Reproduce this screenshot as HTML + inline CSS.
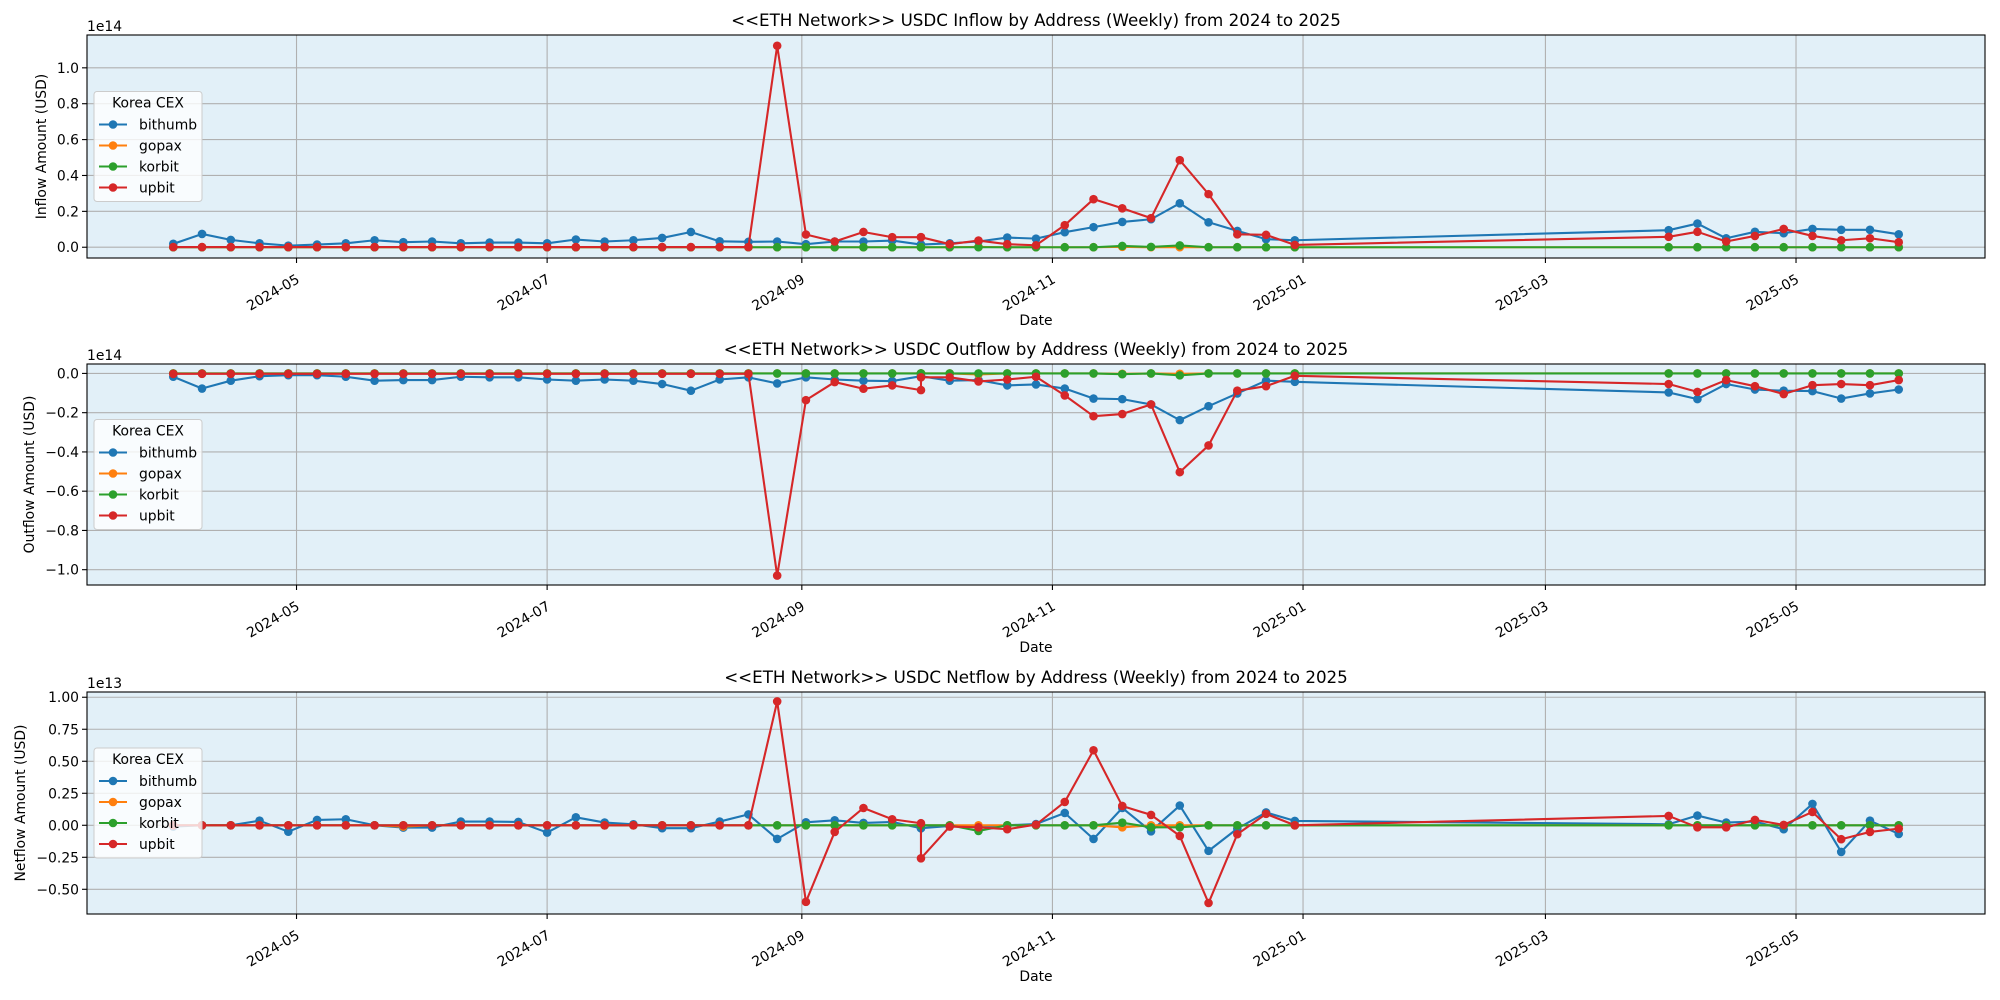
<!DOCTYPE html>
<html><head><meta charset="utf-8">
<style>
html,body{margin:0;padding:0;background:#fff;}
svg{display:block;font-family:"DejaVu Sans","Liberation Sans",sans-serif;}
</style></head>
<body>
<svg id="chart" width="2000" height="1000" viewBox="0 0 2000 1000" xmlns="http://www.w3.org/2000/svg"></svg>
<script>
// ---- data ----
const dates = ["2024-04-01","2024-04-08","2024-04-15","2024-04-22","2024-04-29","2024-05-06","2024-05-13","2024-05-20","2024-05-27","2024-06-03","2024-06-10","2024-06-17","2024-06-24","2024-07-01","2024-07-08","2024-07-15","2024-07-22","2024-07-29","2024-08-05","2024-08-12","2024-08-19","2024-08-26","2024-09-02","2024-09-09","2024-09-16","2024-09-23","2024-09-30","2024-09-30","2024-10-07","2024-10-14","2024-10-21","2024-10-28","2024-11-04","2024-11-11","2024-11-18","2024-11-25","2024-12-02","2024-12-09","2024-12-16","2024-12-23","2024-12-30","2025-03-31","2025-04-07","2025-04-14","2025-04-21","2025-04-28","2025-05-05","2025-05-12","2025-05-19","2025-05-26"];
const exchanges = ["bithumb","gopax","korbit","upbit"];

// inflow (x1e14)
const inBithumb = [0.019,0.074,0.041,0.022,0.009,0.015,0.022,0.039,0.028,0.032,0.022,0.026,0.026,0.022,0.043,0.032,0.039,0.052,0.085,0.033,0.03,0.032,0.017,0.032,0.032,0.037,0.015,0.015,0.022,0.032,0.054,0.048,0.084,0.112,0.141,0.156,0.245,0.139,0.091,0.045,0.039,0.095,0.132,0.05,0.086,0.078,0.102,0.097,0.097,0.072];
const inGopax = [0,0,0,0,0,0,0,0,0,0,0,0,0,0,0,0,0,0,0,0,0,0,0,0,0,0,0,0,0,0.002,0,0,0,0,0.002,0,0,0,0,0,0,0,0,0,0,0,0,0,0,0];
const inKorbit = [0,0,0,0,0,0,0,0,0,0,0,0,0,0,0,0,0,0,0,0,0,0,0,0,0,0,0,0,0,0,0,0,0,0,0.007,0.002,0.01,0,0,0,0,0,0,0,0,0,0,0,0,0];
const inUpbit = [0.001,0.001,0.001,0.001,0.001,0.001,0.001,0.001,0.001,0.001,0.001,0.001,0.001,0.001,0.001,0.001,0.001,0.001,0.001,0.001,0.001,1.123,0.071,0.032,0.085,0.056,0.056,0.056,0.017,0.037,0.017,0.011,0.123,0.268,0.217,0.162,0.485,0.296,0.072,0.069,0.013,0.058,0.086,0.032,0.063,0.102,0.063,0.039,0.05,0.028];

// outflow (x1e14)
const outBithumb = [-0.017,-0.077,-0.037,-0.014,-0.009,-0.009,-0.017,-0.037,-0.034,-0.034,-0.017,-0.02,-0.02,-0.031,-0.037,-0.031,-0.037,-0.054,-0.088,-0.031,-0.02,-0.051,-0.02,-0.031,-0.037,-0.039,-0.014,-0.014,-0.037,-0.034,-0.061,-0.056,-0.077,-0.128,-0.131,-0.158,-0.238,-0.167,-0.102,-0.037,-0.043,-0.097,-0.131,-0.054,-0.082,-0.088,-0.09,-0.128,-0.102,-0.082];
const outGopax = [0,0,0,0,0,0,0,0,0,0,0,0,0,0,0,0,0,0,0,0,0,0,0,0,0,0,0,0,0,-0.005,0,0,0,0,-0.002,0,-0.002,0,0,0,0,0,0,0,0,0,0,0,0,0];
const outKorbit = [0,0,0,0,0,0,0,0,0,0,0,0,0,0,0,0,0,0,0,0,0,0,0,0,0,0,0,0,0,0,0,0,0,0,-0.004,0,-0.01,0,0,0,0,0,0,0,0,0,0,0,0,0];
const outUpbit = [-0.002,-0.002,-0.002,-0.002,-0.002,-0.002,-0.002,-0.002,-0.002,-0.002,-0.002,-0.002,-0.002,-0.002,-0.002,-0.002,-0.002,-0.002,-0.002,-0.002,-0.002,-1.03,-0.136,-0.044,-0.078,-0.061,-0.085,-0.02,-0.02,-0.041,-0.031,-0.017,-0.112,-0.218,-0.207,-0.158,-0.503,-0.367,-0.088,-0.065,-0.012,-0.054,-0.094,-0.034,-0.065,-0.105,-0.06,-0.054,-0.06,-0.034];

// netflow (x1e13)
const netBithumb = [-0.01,0,0,0.036,-0.05,0.042,0.047,0,-0.018,-0.018,0.029,0.029,0.026,-0.057,0.062,0.021,0.008,-0.023,-0.023,0.029,0.085,-0.107,0.023,0.039,0.018,0.026,-0.023,-0.023,-0.005,-0.016,0,0.01,0.096,-0.107,0.135,-0.047,0.154,-0.2,-0.026,0.1,0.034,0.008,0.076,0.021,0.029,-0.031,0.167,-0.208,0.036,-0.068];
const netGopax = [0,0,0,0,0,0,0,0,-0.01,0,0,0,0,0,0,0,0,0,0,0,0,0,0,0,0,0,0,0,0,0,0,0,0,0,-0.016,0,0,0,0,0,0,0,0,0,0,0,0,0,0,0];
const netKorbit = [0,0,0,0,0,0,0,0,0,0,0,0,0,0,0,0,0,0,0,0,0,0,0,0,0,0,0,0,0,-0.044,0,0,0,0,0.02,-0.016,-0.016,0,0,0,0,0,0,0,0,0,0,0,0,0];
const netUpbit = [0,0,0,0,0,0,0,0,0,0,0,0,0,0,0,0,0,0,0,0,0,0.967,-0.598,-0.052,0.135,0.047,0.016,-0.258,-0.01,-0.016,-0.031,0.005,0.182,0.586,0.151,0.081,-0.083,-0.607,-0.07,0.089,0,0.073,-0.016,-0.016,0.042,0.003,0.104,-0.109,-0.052,-0.026];

const inflowTicks = [0,0.2,0.4,0.6,0.8,1.0];
const inflowTickLabels = ["0.0","0.2","0.4","0.6","0.8","1.0"];
const outflowTicks = [0,-0.2,-0.4,-0.6,-0.8,-1.0];
const outflowTickLabels = ["0.0","\u22120.2","\u22120.4","\u22120.6","\u22120.8","\u22121.0"];
const netTicks = [1.0,0.75,0.5,0.25,0,-0.25,-0.5];
const netTickLabels = ["1.00","0.75","0.50","0.25","0.00","\u22120.25","\u22120.50"];
const xTickDates = ["2024-05-01","2024-07-01","2024-09-01","2024-11-01","2025-01-01","2025-03-01","2025-05-01"];
const xTickLabels = ["2024-05","2024-07","2024-09","2024-11","2025-01","2025-03","2025-05"];

// ---- drawing ----
const NS = "http://www.w3.org/2000/svg";
const svg = document.getElementById("chart");
const colors = ["#1f77b4","#ff7f0e","#2ca02c","#d62728"];
const X0 = 87, X1 = 1985;
const t = s => Date.parse(s + "T00:00:00Z");
const xMin = t("2024-03-11"), xMax = t("2025-06-16");
const xScale = d => X0 + (t(d) - xMin) / (xMax - xMin) * (X1 - X0);

function mk(tag, attrs, parent) {
  const e = document.createElementNS(NS, tag);
  for (const k in attrs) e.setAttribute(k, attrs[k]);
  (parent || svg).appendChild(e);
  return e;
}

const panels = [
  {key:"inflow", title:"<<ETH Network>> USDC Inflow by Address (Weekly) from 2024 to 2025", ylabel:"Inflow Amount (USD)", ylabelX:42, top:35, bottom:258, vTop:1.183, vBot:-0.060, ticks:inflowTicks, tickLabels:inflowTickLabels, offset:"1e14", series:[inBithumb,inGopax,inKorbit,inUpbit]},
  {key:"outflow", title:"<<ETH Network>> USDC Outflow by Address (Weekly) from 2024 to 2025", ylabel:"Outflow Amount (USD)", ylabelX:30, top:364, bottom:585, vTop:0.048, vBot:-1.078, ticks:outflowTicks, tickLabels:outflowTickLabels, offset:"1e14", series:[outBithumb,outGopax,outKorbit,outUpbit]},
  {key:"netflow", title:"<<ETH Network>> USDC Netflow by Address (Weekly) from 2024 to 2025", ylabel:"Netflow Amount (USD)", ylabelX:21, top:692, bottom:914, vTop:1.041, vBot:-0.693, ticks:netTicks, tickLabels:netTickLabels, offset:"1e13", series:[netBithumb,netGopax,netKorbit,netUpbit]}
];

panels.forEach(p => {
  const g = mk("g", {});
  
  
  const yScale = v => p.top + (p.vTop - v) / (p.vTop - p.vBot) * (p.bottom - p.top);

  const bg = mk("rect", {x:X0, y:p.top, width:X1-X0, height:p.bottom-p.top, fill:"#e2f0f8"}, g);
  
  

  xTickDates.forEach((d, i) => {
    const x = xScale(d);
    const gl = mk("line", {x1:x, x2:x, y1:p.top, y2:p.bottom, stroke:"#b0b0b0", "stroke-width":1.1}, g);
    
    
    mk("line", {x1:x, x2:x, y1:p.bottom, y2:p.bottom+5, stroke:"#000", "stroke-width":1.1}, g);
    const ty = p.bottom + 24;
    const tl = mk("text", {x:x+4, y:ty, "font-size":13.9, "text-anchor":"end", transform:`rotate(-30 ${x+4} ${ty})`}, g);
    tl.textContent = xTickLabels[i];
    
    
  });
  p.ticks.forEach((v, i) => {
    const y = yScale(v);
    const gl = mk("line", {x1:X0, x2:X1, y1:y, y2:y, stroke:"#b0b0b0", "stroke-width":1.1}, g);
    
    
    mk("line", {x1:X0-5, x2:X0, y1:y, y2:y, stroke:"#000", "stroke-width":1.1}, g);
    const tl = mk("text", {x:X0-8, y:y+5, "font-size":13.9, "text-anchor":"end"}, g);
    tl.textContent = p.tickLabels[i];
    
    
  });

  p.series.forEach((vals, si) => {
    const sg = mk("g", {}, g);
    
    
    const pts = vals.map((v, i) => xScale(dates[i]).toFixed(2) + "," + yScale(v).toFixed(2));
    mk("polyline", {points:pts.join(" "), fill:"none", stroke:colors[si], "stroke-width":2.1, "stroke-linejoin":"round"}, sg);
    vals.forEach((v, i) => {
      const c = mk("circle", {cx:xScale(dates[i]), cy:yScale(v), r:4.3, fill:colors[si]}, sg);
      
      
    });
  });

  mk("rect", {x:X0, y:p.top, width:X1-X0, height:p.bottom-p.top, fill:"none", stroke:"#000", "stroke-width":1.1}, g);

  const tt = mk("text", {x:(X0+X1)/2, y:p.top-9, "font-size":16.7, "text-anchor":"middle"}, g);
  tt.textContent = p.title;
  
  
  const ot = mk("text", {x:X0, y:p.top-4, "font-size":13.9}, g);
  ot.textContent = p.offset;
  
  
  const cy = (p.top + p.bottom) / 2;
  const yl = mk("text", {x:p.ylabelX, y:cy, "font-size":13.9, "text-anchor":"middle", transform:`rotate(-90 ${p.ylabelX} ${cy})`, "dominant-baseline":"middle"}, g);
  yl.textContent = p.ylabel;
  
  
  const xl = mk("text", {x:(X0+X1)/2, y:p.bottom+67, "font-size":13.9, "text-anchor":"middle"}, g);
  xl.textContent = "Date";
  
  

  const lt = cy - 55;
  const lg = mk("g", {}, g);
  
  
  mk("rect", {x:94, y:lt, width:108, height:110, rx:3, fill:"#fff", "fill-opacity":0.8, stroke:"#cccccc", "stroke-width":1}, lg);
  const ltt = mk("text", {x:148, y:lt+16, "font-size":13.9, "text-anchor":"middle"}, lg);
  ltt.textContent = "Korea CEX";
  
  
  exchanges.forEach((name, si) => {
    const ey = lt + 33 + si * 21;
    const eg = mk("g", {}, lg);
    
    
    mk("line", {x1:99, x2:127, y1:ey, y2:ey, stroke:colors[si], "stroke-width":2.1}, eg);
    mk("circle", {cx:113, cy:ey, r:4.3, fill:colors[si]}, eg);
    const et = mk("text", {x:139, y:ey+5, "font-size":13.9}, eg);
    et.textContent = name;
  });
});
</script>
</body></html>
